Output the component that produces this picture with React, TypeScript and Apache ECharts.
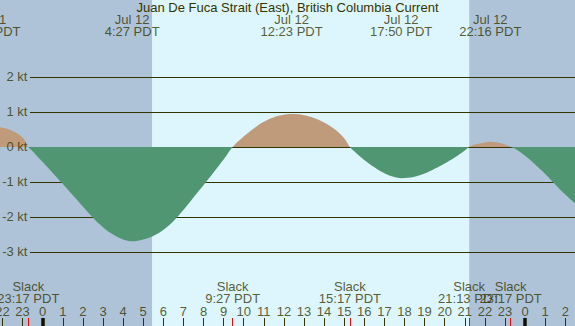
import React, { useEffect, useRef } from "react";
import * as echarts from "echarts";

const TITLE = "Juan De Fuca Strait (East), British Columbia Current";

// tidal current curve (hours from midnight Jul 12, knots)
const curveHours = [
  -2.65, -2.5, -2.0, -1.5, -1.0, -0.7167, -0.5, 0, 0.5, 1, 1.5, 2, 2.5, 3, 3.5, 4, 4.45,
  5, 5.5, 6, 6.5, 7, 7.5, 8, 8.5, 9, 9.45, 10, 10.5, 11, 11.5, 12, 12.3833, 13, 13.5, 14,
  14.5, 15, 15.2833, 15.5, 16, 16.5, 17, 17.5, 17.8333, 18.5, 19, 19.5, 20, 20.5, 21,
  21.2167, 21.5, 22, 22.2667, 22.5, 23, 23.2833, 23.5, 24, 24.5, 25, 25.5, 26, 26.5,
];
const curveKnots = [
  0.58, 0.58, 0.55, 0.46, 0.27, 0, -0.12, -0.43, -0.74, -1.06, -1.38, -1.7, -2.02, -2.29,
  -2.5, -2.64, -2.69, -2.64, -2.54, -2.37, -2.12, -1.8, -1.44, -1.09, -0.73, -0.36, 0,
  0.3, 0.53, 0.72, 0.85, 0.92, 0.94, 0.91, 0.83, 0.7, 0.52, 0.25, 0, -0.12, -0.37, -0.58,
  -0.75, -0.86, -0.89, -0.85, -0.76, -0.62, -0.47, -0.3, -0.1, 0, 0.07, 0.13, 0.15, 0.14,
  0.07, 0, -0.05, -0.25, -0.5, -0.77, -1.07, -1.36, -1.62,
];

const levelLines = [2, 1, 0, -1, -2, -3];

// hour ticks along the bottom (hours from midnight Jul 12)
const hourTicks = [
  -2, -1, 0, 1, 2, 3, 4, 5, 6, 7, 8, 9, 10, 11, 12, 13, 14, 15, 16, 17, 18, 19, 20, 21, 22,
  23, 24, 25, 26,
];
const hourLabels = [
  "22", "23", "0", "1", "2", "3", "4", "5", "6", "7", "8", "9", "10", "11", "12", "13", "14",
  "15", "16", "17", "18", "19", "20", "21", "22", "23", "0", "1", "2",
];

const slackHours = [-0.7167, 9.45, 15.2833, 21.2167, 23.2833];
const slackTimes = ["23:17", "9:27", "15:17", "21:13", "23:17"];

const peakHours = [-2.65, 4.45, 12.3833, 17.8333, 22.2667];
const peakDates = ["Jul 11", "Jul 12", "Jul 12", "Jul 12", "Jul 12"];
const peakTimes = ["21:21", "4:27", "12:23", "17:50", "22:16"];

const midnightHours = [0, 24];
const sunriseHour = 5.44;
const sunsetHour = 21.22;

// layout constants
const X_MIN = -2.1244;
const X_MAX = 26.483;
const Y_MIN = -5.1143;
const Y_MAX = 4.2;
const LINE_START = -0.632;
const TICK_TOP = Y_MIN + 8 / 35;
const HOUR_LABEL_Y = -4.706;
const SLACK_LABEL_Y = -4.171;
const PEAK_LABEL_Y = 3.469;

const NIGHT = "#afc3d8";
const DAY = "#ddf6fd";
const TAN = "#bf9b7b";
const GREEN = "#509673";
const FG = "#333300";
const FONT = "'Liberation Sans', Arial, sans-serif";

const textLabel = (formatter: (p: any) => string, position: any = "inside") => ({
  show: true,
  position,
  distance: 2,
  fontSize: 13,
  lineHeight: 12,
  fontFamily: FONT,
  color: FG,
  formatter,
});

const labelSeries = (data: any[], label: any) => ({
  type: "scatter",
  z: 7,
  clip: false,
  symbolSize: 1,
  itemStyle: { color: "transparent" },
  silent: true,
  data,
  label,
});

export default function App() {
  const ref = useRef<HTMLDivElement>(null);
  useEffect(() => {
    if (!ref.current) return;
    const chart = echarts.init(ref.current, undefined, { renderer: "svg" });
    const curve = curveHours.map((h, i) => [h, curveKnots[i]]);
    chart.setOption({
      animation: false,
      backgroundColor: NIGHT,
      textStyle: { fontFamily: FONT },
      title: {
        text: TITLE,
        left: "center",
        top: 0,
        padding: [1, 0, 0, 0],
        textStyle: { fontFamily: FONT, fontSize: 13, fontWeight: "normal", color: FG },
      },
      grid: { left: 0, right: 0, top: 0, bottom: 0 },
      xAxis: {
        type: "value",
        min: X_MIN,
        max: X_MAX,
        show: false,
        splitLine: { show: false },
      },
      yAxis: {
        type: "value",
        min: Y_MIN,
        max: Y_MAX,
        show: false,
        splitLine: { show: false },
      },
      visualMap: {
        show: false,
        type: "piecewise",
        seriesIndex: 2,
        dimension: 1,
        pieces: [
          { gt: -100, lte: 0, color: GREEN },
          { gt: 0, lte: 100, color: TAN },
        ],
      },
      series: [
        {
          type: "line",
          data: [],
          z: 1,
          markArea: {
            silent: true,
            z: 1,
            itemStyle: { color: DAY },
            data: [[{ xAxis: sunriseHour }, { xAxis: sunsetHour }]],
          },
        },
        {
          type: "line",
          data: [],
          z: 2,
          markLine: {
            silent: true,
            z: 2,
            symbol: ["none", "none"],
            lineStyle: { color: FG, width: 1, type: "solid" },
            label: { show: false },
            data: levelLines.map((v) => [{ coord: [LINE_START, v] }, { coord: [X_MAX, v] }]),
          },
        },
        {
          type: "line",
          data: curve,
          z: 3,
          smooth: 0.4,
          showSymbol: false,
          silent: true,
          lineStyle: { width: 0 },
          areaStyle: { opacity: 1 },
        },
        {
          type: "line",
          data: [],
          z: 6,
          markLine: {
            silent: true,
            z: 6,
            symbol: ["none", "none"],
            label: { show: false },
            data: [
              ...hourTicks.map((h) => [
                { coord: [h, Y_MIN], lineStyle: { color: FG, width: 1, type: "solid" } },
                { coord: [h, TICK_TOP] },
              ]),
              ...slackHours.map((h) => [
                { coord: [h, Y_MIN], lineStyle: { color: "#ff0000", width: 1, type: "solid" } },
                { coord: [h, TICK_TOP] },
              ]),
              ...midnightHours.map((h) => [
                { coord: [h, Y_MIN], lineStyle: { color: "#111100", width: 3.5, type: "solid" } },
                { coord: [h, TICK_TOP] },
              ]),
            ],
          },
        },
        labelSeries(
          levelLines.map((v) => ({ value: [LINE_START, v], name: `${v} kt` })),
          textLabel((p: any) => p.name, "left")
        ),
        labelSeries(
          hourTicks.map((h, i) => ({ value: [h, HOUR_LABEL_Y], name: hourLabels[i] })),
          textLabel((p: any) => p.name)
        ),
        labelSeries(
          slackHours.map((h, i) => ({ value: [h, SLACK_LABEL_Y], name: slackTimes[i] })),
          textLabel((p: any) => `Slack\n${p.name} PDT`)
        ),
        labelSeries(
          peakHours.map((h, i) => ({
            value: [h, PEAK_LABEL_Y],
            name: `${peakDates[i]}\n${peakTimes[i]} PDT`,
          })),
          textLabel((p: any) => p.name)
        ),
      ],
    });
    return () => chart.dispose();
  }, []);
  return (
    <div
      ref={ref}
      style={{ position: "fixed", left: 0, top: 0, width: 575, height: 326 }}
    />
  );
}
